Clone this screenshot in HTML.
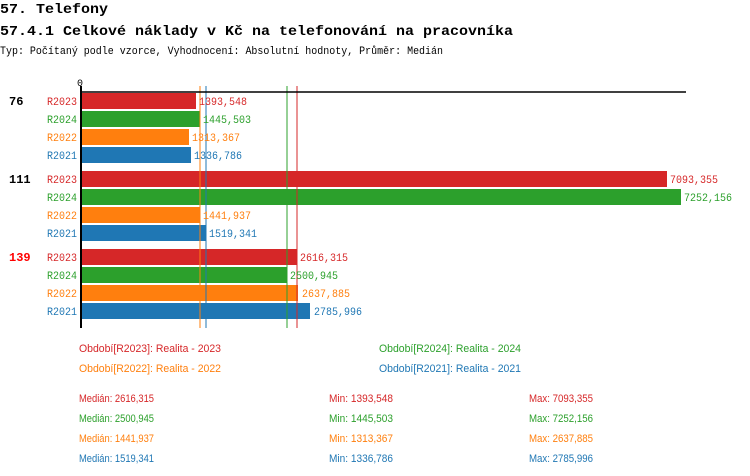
<!DOCTYPE html>
<html><head><meta charset="utf-8"><style>body{margin:0;background:#fff}svg{display:block}text{font-family:"Liberation Mono",monospace}.s{font-family:"Liberation Sans",sans-serif}</style></head><body>
<svg width="750" height="476" xmlns="http://www.w3.org/2000/svg">
<text x="0" y="13" font-size="14" font-weight="bold" textLength="108" lengthAdjust="spacingAndGlyphs">57. Telefony</text>
<text x="0" y="35" font-size="14" font-weight="bold" textLength="513" lengthAdjust="spacingAndGlyphs">57.4.1 Celkové náklady v Kč na telefonování na pracovníka</text>
<text x="0" y="54" font-size="11" textLength="443" lengthAdjust="spacingAndGlyphs">Typ: Počítaný podle vzorce, Vyhodnocení: Absolutní hodnoty, Průměr: Medián</text>
<text x="77" y="86" font-size="10">0</text>
<g font-size="11">
<g fill="#d62728"><rect x="82" y="93" width="114" height="16"/><rect x="82" y="171" width="585" height="16"/><rect x="82" y="249" width="215" height="16"/></g>
<g fill="#2ca02c"><rect x="82" y="111" width="118" height="16"/><rect x="82" y="189" width="599" height="16"/><rect x="82" y="267" width="205" height="16"/></g>
<g fill="#ff7f0e"><rect x="82" y="129" width="107" height="16"/><rect x="82" y="207" width="118" height="16"/><rect x="82" y="285" width="216" height="16"/></g>
<g fill="#1f77b4"><rect x="82" y="147" width="109" height="16"/><rect x="82" y="225" width="124" height="16"/><rect x="82" y="303" width="228" height="16"/></g>
<line x1="200" y1="86" x2="200" y2="328" stroke="#ff7f0e"/>
<line x1="206" y1="86" x2="206" y2="328" stroke="#1f77b4"/>
<line x1="287" y1="86" x2="287" y2="328" stroke="#2ca02c"/>
<line x1="297" y1="86" x2="297" y2="328" stroke="#d62728"/>
<line x1="80" y1="92" x2="686" y2="92" stroke="#000" stroke-width="1.5"/>
<line x1="81" y1="86" x2="81" y2="328" stroke="#000" stroke-width="2"/>
<g font-weight="bold" font-size="12"><text x="9" y="105">76</text><text x="9" y="183">111</text><text x="9" y="261" fill="#f00">139</text></g>
<g>
<text x="47" y="105" fill="#d62728" textLength="30" lengthAdjust="spacingAndGlyphs">R2023</text><text x="47" y="123" fill="#2ca02c" textLength="30" lengthAdjust="spacingAndGlyphs">R2024</text><text x="47" y="141" fill="#ff7f0e" textLength="30" lengthAdjust="spacingAndGlyphs">R2022</text><text x="47" y="159" fill="#1f77b4" textLength="30" lengthAdjust="spacingAndGlyphs">R2021</text>
<text x="47" y="183" fill="#d62728" textLength="30" lengthAdjust="spacingAndGlyphs">R2023</text><text x="47" y="201" fill="#2ca02c" textLength="30" lengthAdjust="spacingAndGlyphs">R2024</text><text x="47" y="219" fill="#ff7f0e" textLength="30" lengthAdjust="spacingAndGlyphs">R2022</text><text x="47" y="237" fill="#1f77b4" textLength="30" lengthAdjust="spacingAndGlyphs">R2021</text>
<text x="47" y="261" fill="#d62728" textLength="30" lengthAdjust="spacingAndGlyphs">R2023</text><text x="47" y="279" fill="#2ca02c" textLength="30" lengthAdjust="spacingAndGlyphs">R2024</text><text x="47" y="297" fill="#ff7f0e" textLength="30" lengthAdjust="spacingAndGlyphs">R2022</text><text x="47" y="315" fill="#1f77b4" textLength="30" lengthAdjust="spacingAndGlyphs">R2021</text>
</g>
<g>
<text x="199" y="105" fill="#d62728" textLength="48" lengthAdjust="spacingAndGlyphs">1393,548</text><text x="203" y="123" fill="#2ca02c" textLength="48" lengthAdjust="spacingAndGlyphs">1445,503</text><text x="192" y="141" fill="#ff7f0e" textLength="48" lengthAdjust="spacingAndGlyphs">1313,367</text><text x="194" y="159" fill="#1f77b4" textLength="48" lengthAdjust="spacingAndGlyphs">1336,786</text>
<text x="670" y="183" fill="#d62728" textLength="48" lengthAdjust="spacingAndGlyphs">7093,355</text><text x="684" y="201" fill="#2ca02c" textLength="48" lengthAdjust="spacingAndGlyphs">7252,156</text><text x="203" y="219" fill="#ff7f0e" textLength="48" lengthAdjust="spacingAndGlyphs">1441,937</text><text x="209" y="237" fill="#1f77b4" textLength="48" lengthAdjust="spacingAndGlyphs">1519,341</text>
<text x="300" y="261" fill="#d62728" textLength="48" lengthAdjust="spacingAndGlyphs">2616,315</text><text x="290" y="279" fill="#2ca02c" textLength="48" lengthAdjust="spacingAndGlyphs">2500,945</text><text x="302" y="297" fill="#ff7f0e" textLength="48" lengthAdjust="spacingAndGlyphs">2637,885</text><text x="314" y="315" fill="#1f77b4" textLength="48" lengthAdjust="spacingAndGlyphs">2785,996</text>
</g>
</g>
<g font-size="11" class="s">
<text class="s" x="79" y="352" fill="#d62728" textLength="142" lengthAdjust="spacingAndGlyphs">Období[R2023]: Realita - 2023</text>
<text class="s" x="379" y="352" fill="#2ca02c" textLength="142" lengthAdjust="spacingAndGlyphs">Období[R2024]: Realita - 2024</text>
<text class="s" x="79" y="372" fill="#ff7f0e" textLength="142" lengthAdjust="spacingAndGlyphs">Období[R2022]: Realita - 2022</text>
<text class="s" x="379" y="372" fill="#1f77b4" textLength="142" lengthAdjust="spacingAndGlyphs">Období[R2021]: Realita - 2021</text>
<g fill="#d62728"><text class="s" x="79" y="402" textLength="75" lengthAdjust="spacingAndGlyphs">Medián: 2616,315</text><text class="s" x="329" y="402" textLength="64" lengthAdjust="spacingAndGlyphs">Min: 1393,548</text><text class="s" x="529" y="402" textLength="64" lengthAdjust="spacingAndGlyphs">Max: 7093,355</text></g>
<g fill="#2ca02c"><text class="s" x="79" y="422" textLength="75" lengthAdjust="spacingAndGlyphs">Medián: 2500,945</text><text class="s" x="329" y="422" textLength="64" lengthAdjust="spacingAndGlyphs">Min: 1445,503</text><text class="s" x="529" y="422" textLength="64" lengthAdjust="spacingAndGlyphs">Max: 7252,156</text></g>
<g fill="#ff7f0e"><text class="s" x="79" y="442" textLength="75" lengthAdjust="spacingAndGlyphs">Medián: 1441,937</text><text class="s" x="329" y="442" textLength="64" lengthAdjust="spacingAndGlyphs">Min: 1313,367</text><text class="s" x="529" y="442" textLength="64" lengthAdjust="spacingAndGlyphs">Max: 2637,885</text></g>
<g fill="#1f77b4"><text class="s" x="79" y="462" textLength="75" lengthAdjust="spacingAndGlyphs">Medián: 1519,341</text><text class="s" x="329" y="462" textLength="64" lengthAdjust="spacingAndGlyphs">Min: 1336,786</text><text class="s" x="529" y="462" textLength="64" lengthAdjust="spacingAndGlyphs">Max: 2785,996</text></g>
</g>
</svg>
</body></html>
